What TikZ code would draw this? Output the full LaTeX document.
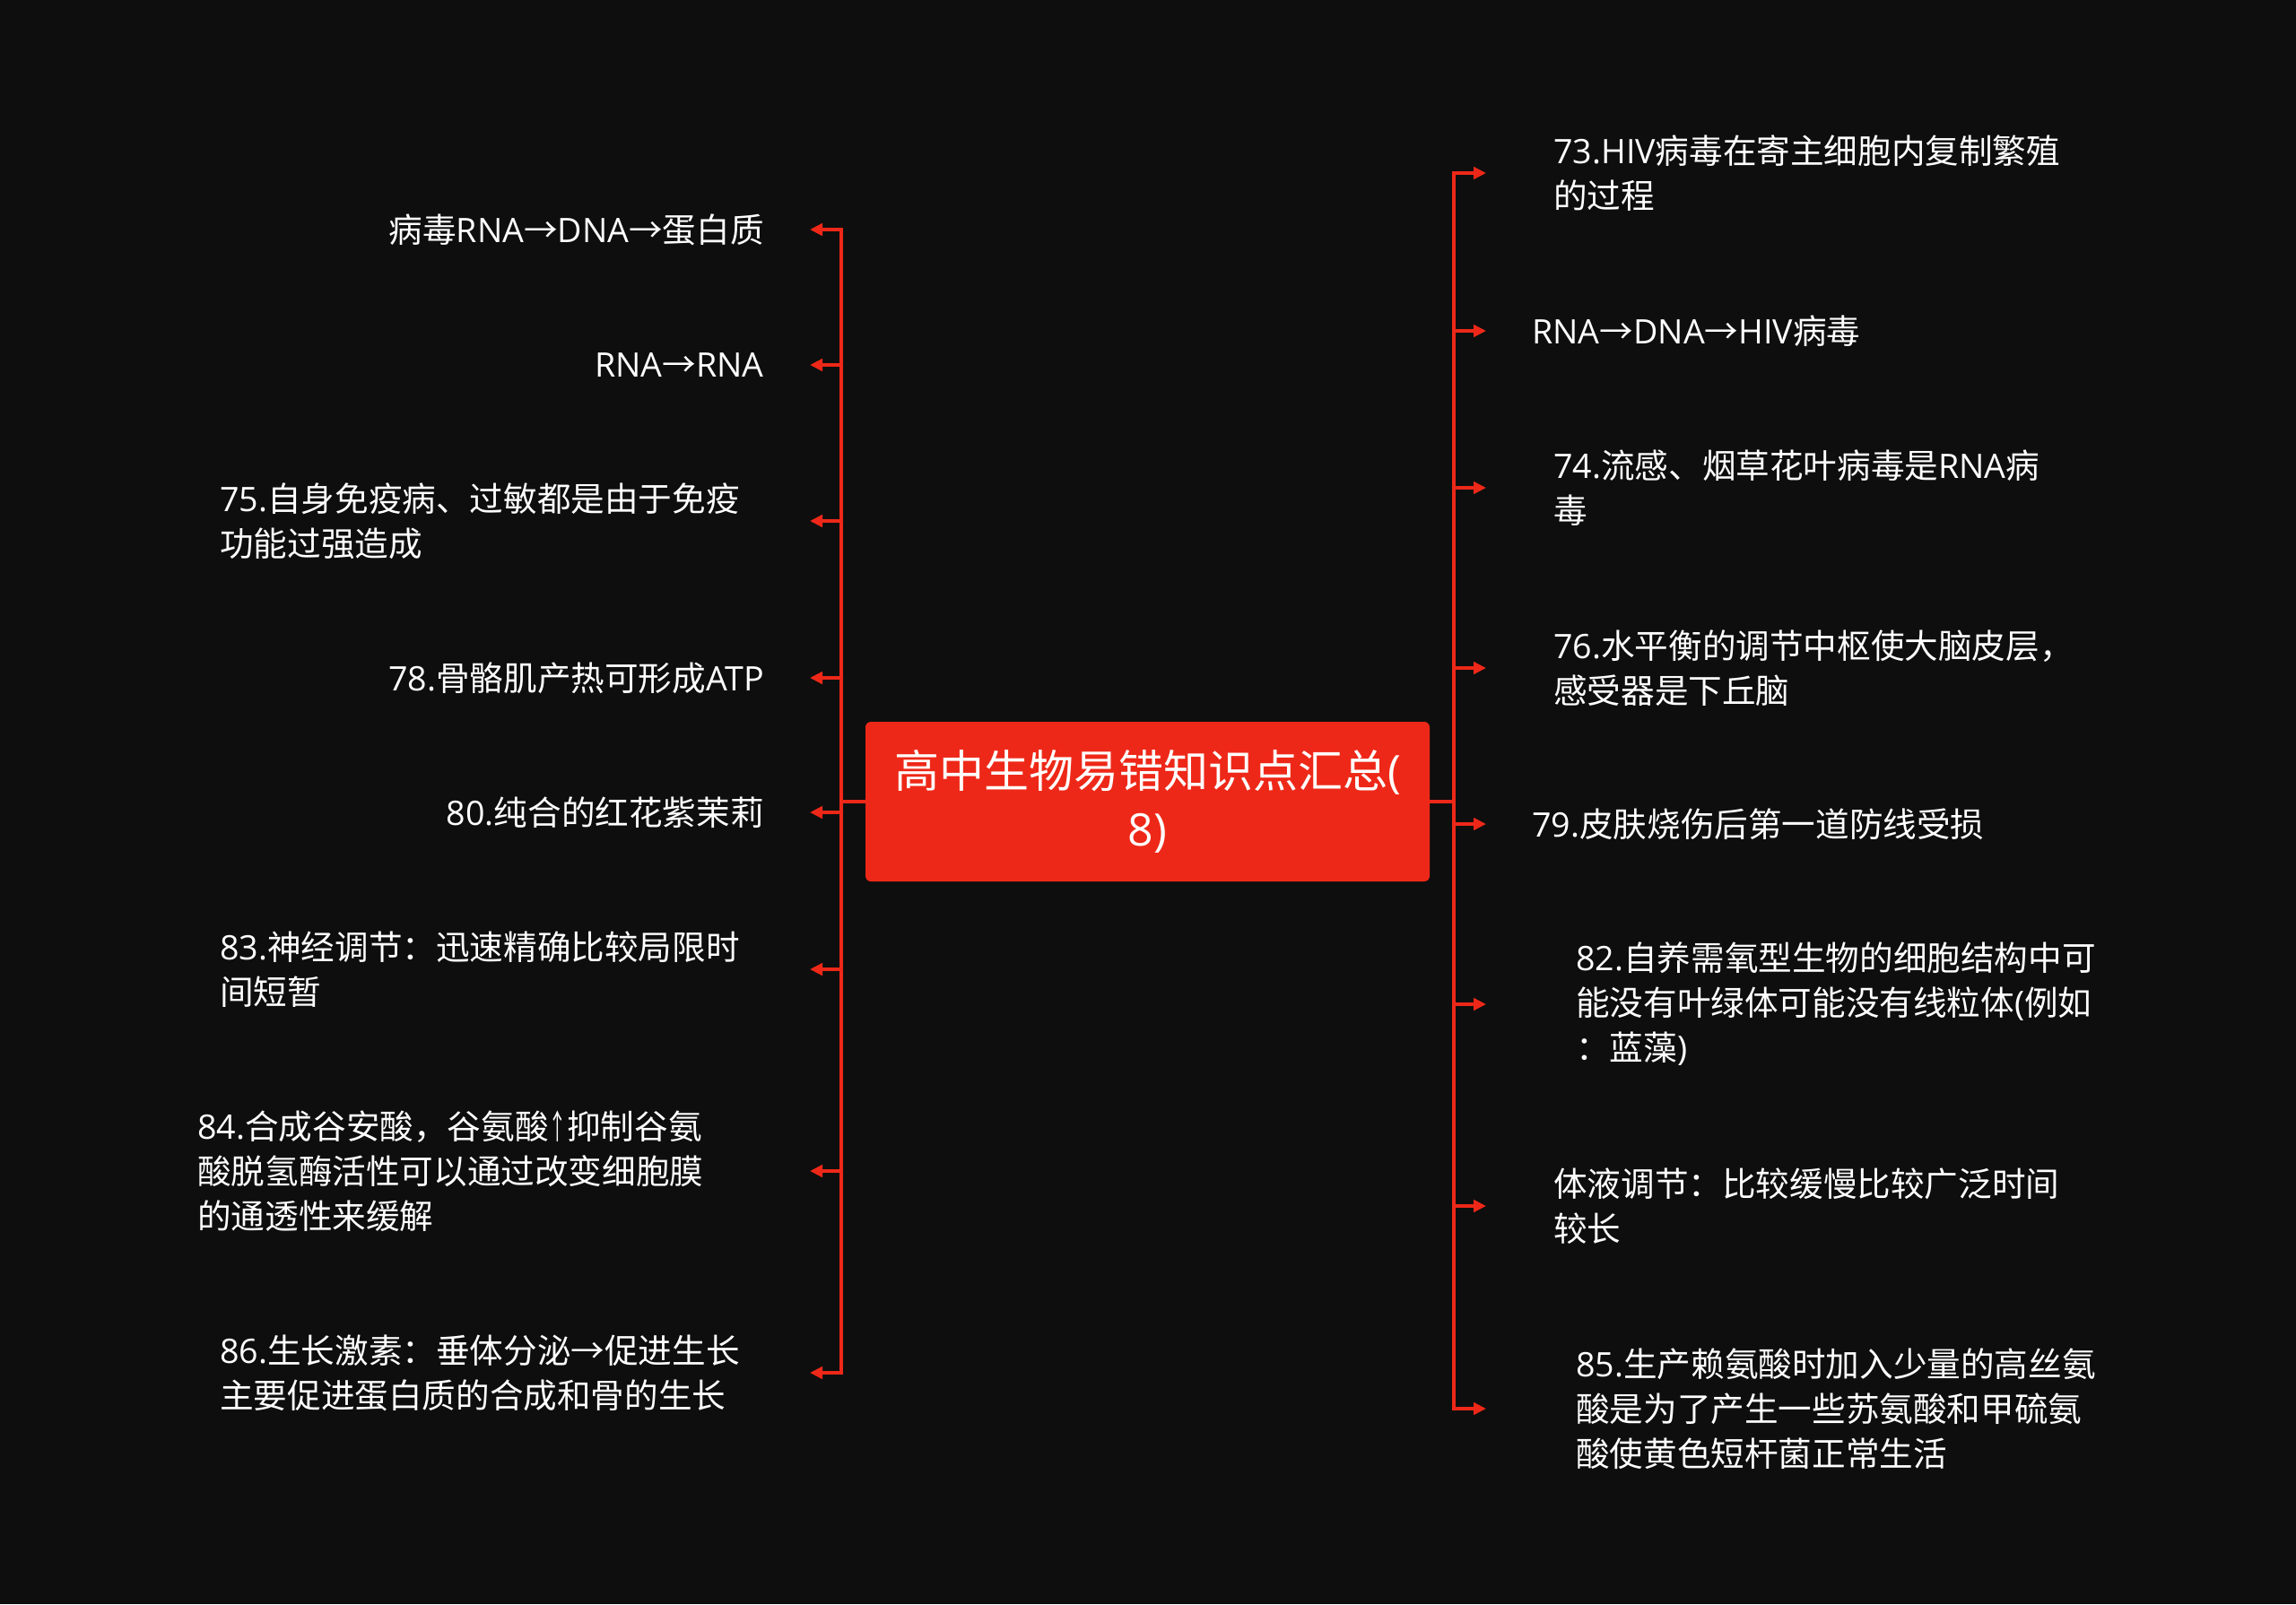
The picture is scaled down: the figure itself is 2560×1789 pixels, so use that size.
\documentclass[tikz,border=0pt]{standalone}
\usepackage{fontspec}
\setmainfont{Noto Sans CJK SC}
\newfontfamily\latfont{Open Sans}
\newcommand\latw[1]{{\latfont #1}}
\newcommand\uparr{\scalebox{0.55}[1]{↑}}
\usetikzlibrary{arrows.meta}
\definecolor{bgc}{RGB}{14,14,14}
\definecolor{mred}{RGB}{238,40,24}
\begin{document}
\begin{tikzpicture}[x=0.75pt,y=-0.75pt,
  conn/.style={draw=mred,line width=3.3pt,line join=miter,-{Triangle[length=10.5pt,width=10pt]}},
  item/.style={text=white,font=\fontsize{28.2pt}{37.5pt}\selectfont,inner sep=0pt,align=left},
  rootbox/.style={fill=mred,rounded corners=4.5pt,minimum width=471.75pt,minimum height=133.5pt,inner sep=0pt,
    text=white,font=\fontsize{37.5pt}{48.75pt}\selectfont,align=center}]
\fill[bgc] (0,0) rectangle (2560,1789);
\useasboundingbox (0,0) rectangle (2560,1789);

\node[rootbox] (root) at (1279.5,894) {高中生物易错知识点汇总\latw{(}\\\latw{8)}};

% left items
\node[item,anchor=east] (L1) at (852,256) {病毒\latw{RNA}→\latw{DNA}→蛋白质};
\node[item,anchor=east] (L2) at (852,407) {\latw{RNA}→\latw{RNA}};
\node[item,anchor=west] (L3) at (245,581) {\latw{75.}自身免疫病、过敏都是由于免疫\\功能过强造成};
\node[item,anchor=east] (L4) at (852,756) {\latw{78.}骨骼肌产热可形成\latw{ATP}};
\node[item,anchor=east] (L5) at (852,906) {\latw{80.}纯合的红花紫茉莉};
\node[item,anchor=west] (L6) at (245,1081) {\latw{83.}神经调节：迅速精确比较局限时\\间短暂};
\node[item,anchor=west] (L7) at (220,1306) {\latw{84.}合成谷安酸，谷氨酸\uparr 抑制谷氨\\酸脱氢酶活性可以通过改变细胞膜\\的通透性来缓解};
\node[item,anchor=west] (L8) at (245,1531) {\latw{86.}生长激素：垂体分泌→促进生长\\主要促进蛋白质的合成和骨的生长};

% right items
\node[item,anchor=west] (R1) at (1732,193) {\latw{73.HIV}病毒在寄主细胞内复制繁殖\\的过程};
\node[item,anchor=west] (R2) at (1708,369) {\latw{RNA}→\latw{DNA}→\latw{HIV}病毒};
\node[item,anchor=west] (R3) at (1732,544) {\latw{74.}流感、烟草花叶病毒是\latw{RNA}病\\毒};
\node[item,anchor=west] (R4) at (1732,745) {\latw{76.}水平衡的调节中枢使大脑皮层，\\感受器是下丘脑};
\node[item,anchor=west] (R5) at (1708,919) {\latw{79.}皮肤烧伤后第一道防线受损};
\node[item,anchor=west] (R6) at (1757,1120) {\latw{82.}自养需氧型生物的细胞结构中可\\能没有叶绿体可能没有线粒体\latw{(}例如\\：蓝藻\latw{)}};
\node[item,anchor=west] (R7) at (1732,1345) {体液调节：比较缓慢比较广泛时间\\较长};
\node[item,anchor=west] (R8) at (1757,1571) {\latw{85.}生产赖氨酸时加入少量的高丝氨\\酸是为了产生一些苏氨酸和甲硫氨\\酸使黄色短杆菌正常生活};

% connectors
\foreach \i/\y in {1/256,2/407,3/581,4/756,5/906,6/1081,7/1306,8/1531}{
  \coordinate (LA\i) at (903,\y);
  \draw[conn] (root.west) -- (938,894) |- (LA\i);
}
\foreach \i/\y in {1/193,2/369,3/544,4/745,5/919,6/1120,7/1345,8/1571}{
  \coordinate (RA\i) at (1657,\y);
  \draw[conn] (root.east) -- (1621,894) |- (RA\i);
}
\end{tikzpicture}
\end{document}
